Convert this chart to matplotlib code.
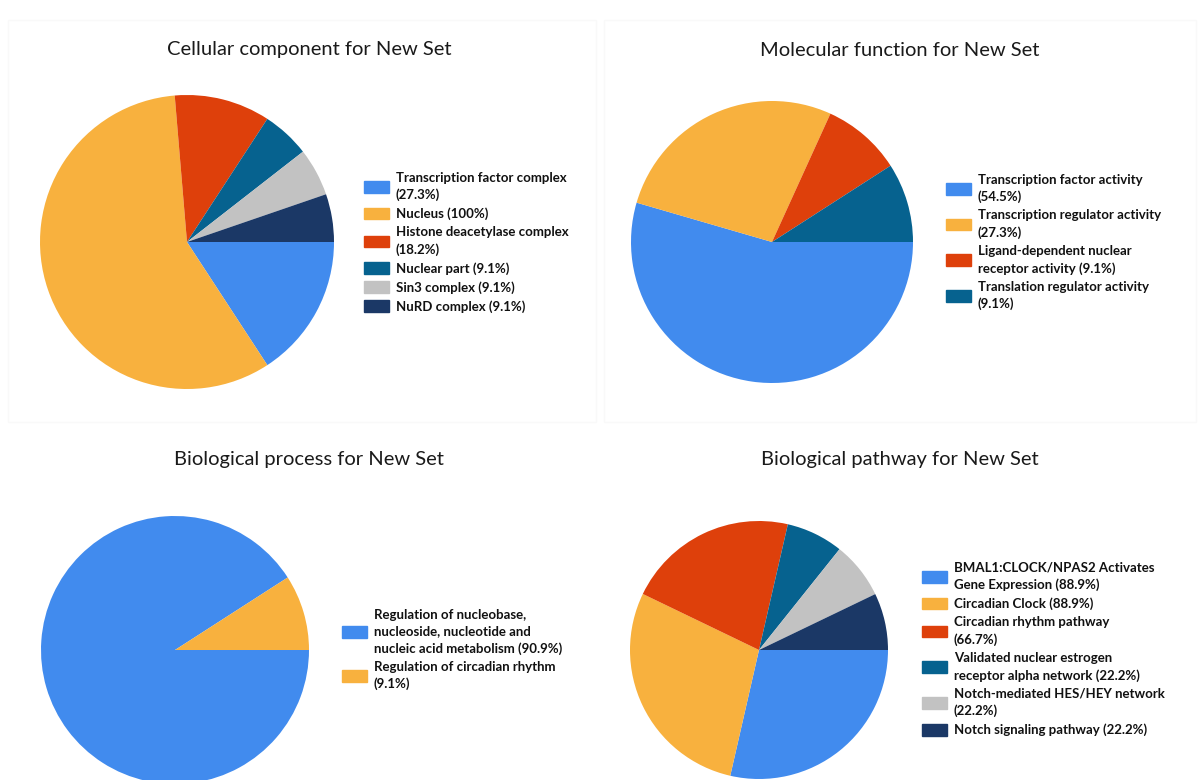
import matplotlib
matplotlib.use("Agg")
import matplotlib.pyplot as plt
from matplotlib.patches import Rectangle

W, H = 1202, 780

# colours used by the charts
blue = "#418BEE"
orange = "#F8B13E"
red = "#DE400B"
teal = "#06628F"
grey = "#C2C2C2"
navy = "#1B3866"

# ---- data -------------------------------------------------------------
cc_labels = ["Transcription factor complex\n(27.3%)", "Nucleus (100%)",
             "Histone deacetylase complex\n(18.2%)", "Nuclear part (9.1%)",
             "Sin3 complex (9.1%)", "NuRD complex (9.1%)"]
cc_values = [27.3, 100, 18.2, 9.1, 9.1, 9.1]

mf_labels = ["Transcription factor activity\n(54.5%)",
             "Transcription regulator activity\n(27.3%)",
             "Ligand-dependent nuclear\nreceptor activity (9.1%)",
             "Translation regulator activity\n(9.1%)"]
mf_values = [54.5, 27.3, 9.1, 9.1]

bp_labels = ["Regulation of nucleobase,\nnucleoside, nucleotide and\nnucleic acid metabolism (90.9%)",
             "Regulation of circadian rhythm\n(9.1%)"]
bp_values = [90.9, 9.1]

pw_labels = ["BMAL1:CLOCK/NPAS2 Activates\nGene Expression (88.9%)",
             "Circadian Clock (88.9%)",
             "Circadian rhythm pathway\n(66.7%)",
             "Validated nuclear estrogen\nreceptor alpha network (22.2%)",
             "Notch-mediated HES/HEY network\n(22.2%)",
             "Notch signaling pathway (22.2%)"]
pw_values = [88.9, 88.9, 66.7, 22.2, 22.2, 22.2]

six_colors = [blue, orange, red, teal, grey, navy]

fig = plt.figure(figsize=(W / 100, H / 100), dpi=100)
fig.patch.set_facecolor("white")

# very faint panel borders
for (x0, y0, x1, y1) in [(8, 20, 596, 422), (604, 20, 1196, 422)]:
    fig.patches.append(Rectangle((x0 / W, 1 - y1 / H), (x1 - x0) / W, (y1 - y0) / H,
                                 transform=fig.transFigure, fill=False,
                                 edgecolor="#f9f9f9", lw=1))


def panel(cx, cy, r, values, labels, colors, title, tx, ty, lx, ly):
    ax = fig.add_axes([(cx - r) / W, 1 - (cy + r) / H, 2 * r / W, 2 * r / H])
    ax.pie(values, colors=colors, startangle=0, counterclock=False,
           radius=1, wedgeprops=dict(linewidth=0))
    ax.set_xlim(-1, 1)
    ax.set_ylim(-1, 1)
    ax.set_aspect("equal")
    ax.axis("off")
    fig.text(tx / W, 1 - ty / H, title, ha="center", va="center",
             fontsize=14.5, family="Lato", color="#1a1a1a")
    handles = [Rectangle((0, 0), 1, 1, color=c) for c in colors]
    leg = fig.legend(handles, labels, loc="upper left",
                     bbox_to_anchor=(lx / W, 1 - ly / H),
                     frameon=False, borderpad=0, handlelength=1.95,
                     handleheight=1.0, handletextpad=0.5, labelspacing=0.48,
                     prop=dict(family="Lato", weight="bold", size=9.5))
    for t in leg.get_texts():
        t.set_linespacing(1.45)
        t.set_color("#111111")


panel(187, 242, 147, cc_values, cc_labels, six_colors,
      "Cellular component for New Set", 309, 50, 357, 165)
panel(772, 242, 141, mf_values, mf_labels, six_colors[:4],
      "Molecular function for New Set", 900, 50, 939, 167)
panel(175, 650, 134, bp_values, bp_labels, [blue, orange],
      "Biological process for New Set", 309, 460, 335, 602)
panel(759, 650, 129, pw_values, pw_labels, six_colors,
      "Biological pathway for New Set", 900, 460, 915, 555)

fig.savefig("out.png", dpi=100, facecolor="white")
